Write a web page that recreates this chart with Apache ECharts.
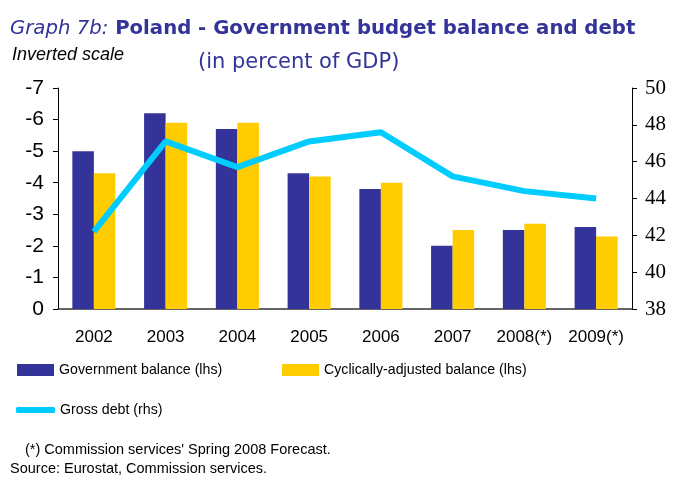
<!DOCTYPE html>
<html>
<head>
<meta charset="utf-8">
<script src="https://cdn.jsdelivr.net/npm/echarts@6/dist/echarts.min.js"></script>
<style>html,body{margin:0;padding:0;background:#fff}#c{width:678px;height:478px}</style>
</head>
<body>
<div id="c"></div>
<script>
var categories = ['2002','2003','2004','2005','2006','2007','2008(*)','2009(*)'];
var govBalance = [-5.0, -6.2, -5.7, -4.3, -3.8, -2.0, -2.5, -2.6];
var cycBalance = [-4.3, -5.9, -5.9, -4.2, -4.0, -2.5, -2.7, -2.3];
var grossDebt = [42.2, 47.1, 45.7, 47.1, 47.6, 45.2, 44.4, 44.0];
var leftTicks = {min: -7, max: 0, interval: 1};
var rightTicks = {min: 38, max: 50, interval: 2};

var NAVY = '#333399', YELLOW = '#FFCC00', CYAN = '#00CCFF';
var chart = echarts.init(document.getElementById('c'));
var sans = 'Liberation Sans, Arial, sans-serif';
chart.setOption({
  animation: false,
  title: [{
    left: 10, top: 19, padding: 0,
    text: '{a|Graph 7b:}{b| Poland - Government budget balance and debt}',
    textStyle: {
      rich: {
        a: {fontFamily: 'DejaVu Sans', fontStyle: 'italic', fontSize: 19.7, color: NAVY, fontWeight: 'normal'},
        b: {fontFamily: 'DejaVu Sans', fontWeight: 'bold', fontSize: 19.7, color: NAVY}
      }
    }
  }, {
    left: 198, top: 52, padding: 0,
    text: '(in percent of GDP)',
    textStyle: {fontFamily: 'DejaVu Sans', fontWeight: 'normal', fontSize: 21, color: NAVY}
  }, {
    left: 12, top: 46, padding: 0,
    text: 'Inverted scale',
    textStyle: {fontFamily: sans, fontStyle: 'italic', fontWeight: 'normal', fontSize: 18, color: '#000'}
  }, {
    left: 25, top: 442, padding: 0,
    text: "(*) Commission services' Spring 2008 Forecast.",
    textStyle: {fontFamily: sans, fontWeight: 'normal', fontSize: 14.5, color: '#000'}
  }, {
    left: 10, top: 461, padding: 0,
    text: 'Source: Eurostat, Commission services.',
    textStyle: {fontFamily: sans, fontWeight: 'normal', fontSize: 14.5, color: '#000'}
  }],
  legend: [{
    left: 17, top: 363, padding: 0, itemWidth: 37, itemHeight: 12,
    data: [{name: 'Government balance (lhs)', icon: 'rect'}],
    textStyle: {fontFamily: sans, fontSize: 14.2, color: '#000'}
  }, {
    left: 282, top: 363, padding: 0, itemWidth: 37, itemHeight: 12,
    data: [{name: 'Cyclically-adjusted balance (lhs)', icon: 'rect'}],
    textStyle: {fontFamily: sans, fontSize: 14.2, color: '#000'}
  }, {
    left: 16, top: 403, padding: 0, itemWidth: 39, itemHeight: 6,
    data: [{name: 'Gross debt (rhs)', icon: 'roundRect'}],
    textStyle: {fontFamily: sans, fontSize: 14.2, color: '#000'}
  }],
  grid: {left: 58, right: 46, top: 88, bottom: 169},
  xAxis: {
    type: 'category', data: categories,
    axisLine: {lineStyle: {color: '#333', width: 1.5}, onZero: false},
    axisTick: {inside: true, length: 6, lineStyle: {color: '#000'}},
    axisLabel: {fontFamily: sans, fontSize: 17, color: '#000', margin: 20, interval: 0}
  },
  yAxis: [{
    type: 'value', inverse: true,
    min: leftTicks.min, max: leftTicks.max, interval: leftTicks.interval,
    axisLine: {show: true, lineStyle: {color: '#000'}},
    axisTick: {show: true, length: 5, lineStyle: {color: '#000'}},
    splitLine: {show: false},
    axisLabel: {fontFamily: sans, fontSize: 21, color: '#000', margin: 14}
  }, {
    type: 'value', position: 'right',
    min: rightTicks.min, max: rightTicks.max, interval: rightTicks.interval,
    axisLine: {show: true, lineStyle: {color: '#000'}},
    axisTick: {show: true, length: 5, lineStyle: {color: '#000'}},
    splitLine: {show: false},
    axisLabel: {fontFamily: 'Liberation Serif, Times New Roman, serif', fontSize: 21, color: '#000', margin: 13}
  }],
  series: [{
    name: 'Government balance (lhs)', type: 'bar', data: govBalance,
    itemStyle: {color: NAVY}, barGap: '0%', barCategoryGap: '40%'
  }, {
    name: 'Cyclically-adjusted balance (lhs)', type: 'bar', data: cycBalance,
    itemStyle: {color: YELLOW}, barGap: '0%', barCategoryGap: '40%'
  }, {
    name: 'Gross debt (rhs)', type: 'line', yAxisIndex: 1, data: grossDebt,
    symbol: 'none', itemStyle: {color: CYAN},
    lineStyle: {color: CYAN, width: 6}
  }]
});
</script>
</body>
</html>
